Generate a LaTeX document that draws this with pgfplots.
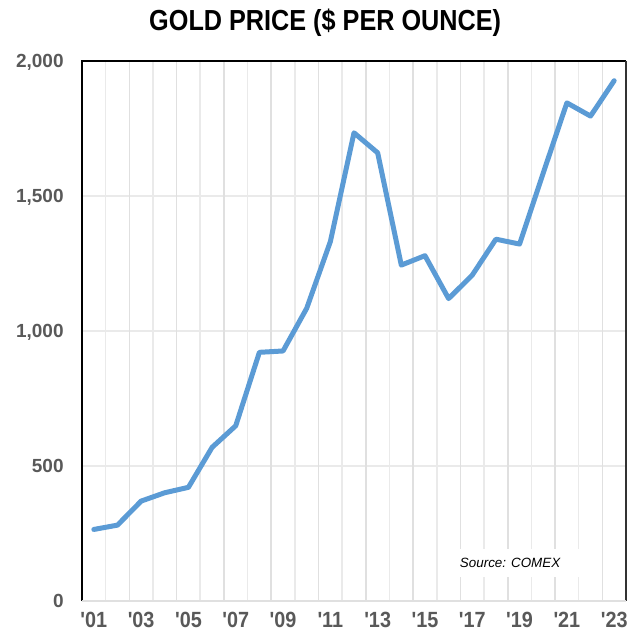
\documentclass[border=0pt]{standalone}
\usepackage{pgfplots}
\pgfplotsset{compat=1.18}
\usepackage{fontspec}
\setmainfont{Liberation Sans}
\usetikzlibrary{calc}

\definecolor{goldline}{HTML}{5B9BD5}
\definecolor{ticktext}{HTML}{595959}
\definecolor{gridlight}{HTML}{EAEAEA}
\definecolor{griddark}{HTML}{E0E0E0}

\newcommand{\yr}[1]{\scalebox{0.9}[1]{\textquotesingle#1}}

\begin{document}
\begin{tikzpicture}
% x = year - 2000
\begin{axis}[
    scale only axis,
    width=272bp, height=270bp,
    xmin=0.5, xmax=23.5,
    ymin=0, ymax=2000,
    axis line style={draw=none},
    major tick length=0pt, minor tick length=0pt,
    xtick={1,3,...,23},
    xticklabels={\yr{01},\yr{03},\yr{05},\yr{07},\yr{09},\yr{11},\yr{13},\yr{15},\yr{17},\yr{19},\yr{21},\yr{23}},
    minor xtick={1.5,3.5,...,21.5},
    extra x ticks={2.5,4.5,...,22.5},
    extra x tick labels={},
    extra x tick style={xmajorgrids=true, major grid style={griddark, line width=0.8bp}},
    xminorgrids=true,
    minor grid style={gridlight, line width=0.8bp},
    ytick={0,500,1000,1500,2000},
    yticklabels={0,500,{1,000},{1,500},{2,000}},
    ymajorgrids=true,
    major grid style={gridlight, line width=1bp},
    tick label style={font=\fontsize{9.5bp}{11bp}\selectfont\bfseries, text=ticktext, inner sep=0pt, text depth=0pt},
    xticklabel style={anchor=north, yshift=-5.5bp, font=\fontsize{11bp}{12bp}\selectfont\bfseries},
    yticklabel style={anchor=east, xshift=-9bp},
    clip=false,
]
\addplot[goldline, line width=2.5bp, line join=round, line cap=round] coordinates {
    (1,265) (2,281) (3,370) (4,401) (5,421)
    (6,569) (7,649) (8,921) (9,926) (10,1084)
    (11,1331) (12,1734) (13,1660) (14,1244) (15,1279)
    (16,1120) (17,1207) (18,1340) (19,1322) (20,1585)
    (21,1845) (22,1796) (23,1927)
};
% frame: black left/top/right, grey base
\draw[black, line width=0.7bp] (rel axis cs:0,0) -- (rel axis cs:0,1) -- (rel axis cs:1,1);
\draw[black!80, line width=0.9bp] (rel axis cs:1,1) -- (rel axis cs:1,0);
\draw[griddark, line width=1.2bp] (rel axis cs:0,0) -- (rel axis cs:1,0);
\node[fill=white, minimum width=68.5bp, minimum height=14bp, inner sep=0pt,
      font=\fontsize{6.7bp}{8bp}\selectfont\itshape]
      at (rel axis cs:0.787,0.070) {Source: COMEX};
\node[font=\fontsize{14.5bp}{16bp}\selectfont\bfseries, inner sep=0pt, yshift=19bp]
      at (rel axis cs:0.447,1) {\scalebox{0.87}[1]{GOLD PRICE (\$ PER OUNCE)}};
\coordinate (ll) at (rel axis cs:0,0);
\coordinate (ur) at (rel axis cs:1,1);
\end{axis}
\pgfresetboundingbox
\path[use as bounding box] ($(ll)+(-41bp,-14.5bp)$) rectangle ($(ur)+(5.5bp,30.5bp)$);
\end{tikzpicture}
\end{document}
